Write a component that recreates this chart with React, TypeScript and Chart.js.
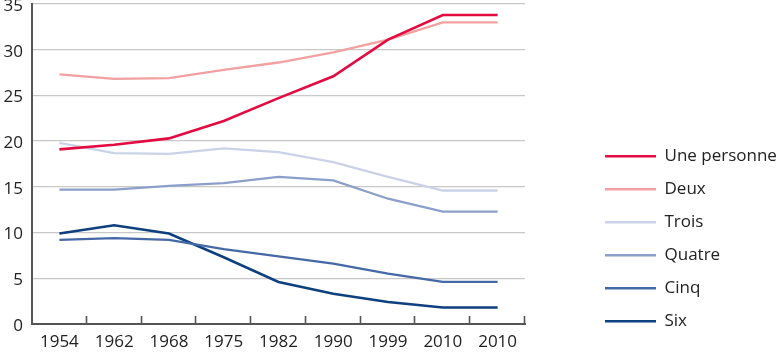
import React, { useEffect, useRef } from "react";
import { Chart, registerables } from "chart.js";

Chart.register(...registerables);

const categories = ["1954", "1962", "1968", "1975", "1982", "1990", "1999", "2010", "2010"];
const seriesNames = ["Une personne", "Deux", "Trois", "Quatre", "Cinq", "Six"];
const unePersonne = [19.1, 19.6, 20.3, 22.2, 24.7, 27.1, 31.1, 33.8, 33.8];
const deux = [27.3, 26.8, 26.9, 27.8, 28.6, 29.7, 31.1, 33.0, 33.0];
const trois = [19.8, 18.7, 18.6, 19.2, 18.8, 17.7, 16.1, 14.6, 14.6];
const quatre = [14.7, 14.7, 15.1, 15.4, 16.1, 15.7, 13.7, 12.3, 12.3];
const cinq = [9.2, 9.4, 9.2, 8.2, 7.4, 6.6, 5.5, 4.6, 4.6];
const six = [9.9, 10.8, 9.9, 7.3, 4.6, 3.3, 2.4, 1.8, 1.8];
const yTicks = [0, 5, 10, 15, 20, 25, 30, 35];

const colors = ["#e30b41", "#f3a0a0", "#c9d2e7", "#8c9fca", "#4569a6", "#0e3f7e"];
const widths = [2.6, 2.3, 2.3, 2.3, 2.3, 2.5];
const FONT = "'Open Sans', sans-serif";

const PLOT_RIGHT = 525;
const LEGEND_LEFT = 589;

const innerTicks = {
  id: "innerTicks",
  afterLayout(chart: any) {
    const lg = chart.legend;
    if (lg) {
      lg.left = LEGEND_LEFT;
      lg.right = chart.width;
      lg.width = chart.width - LEGEND_LEFT;
    }
  },
  afterDraw(chart: any) {
    const xs = chart.scales.x;
    const n = xs.ticks.length;
    const ctx = chart.ctx;
    ctx.save();
    ctx.strokeStyle = "#555";
    ctx.lineWidth = 1.6;
    for (let i = 1; i <= n; i++) {
      const x = Math.round(xs.left + (i * (xs.right - xs.left)) / n) - 0.5;
      ctx.beginPath();
      ctx.moveTo(x, xs.top - 8);
      ctx.lineTo(x, xs.top);
      ctx.stroke();
    }
    ctx.restore();
  },
};

export default function App() {
  const ref = useRef<HTMLCanvasElement | null>(null);
  useEffect(() => {
    if (!ref.current) return;
    const all = [unePersonne, deux, trois, quatre, cinq, six];
    const chart = new Chart(ref.current, {
      type: "line",
      data: {
        labels: categories,
        datasets: all.map((d, i) => ({
          label: seriesNames[i],
          data: d,
          borderColor: colors[i],
          backgroundColor: colors[i],
          borderWidth: widths[i],
          pointRadius: 0,
          tension: 0,
          fill: false,
        })),
      },
      options: {
        animation: false,
        responsive: true,
        maintainAspectRatio: false,
        layout: { padding: { top: 4, left: 0, right: 0, bottom: 0 } },
        plugins: {
          tooltip: { enabled: false },
          legend: {
            position: "right",
            align: "start",
            fullSize: true,
            title: { display: true, text: "", font: { size: 10, lineHeight: 1 }, padding: { top: 117.8, bottom: 0 } },
            labels: {
              boxWidth: 51,
              boxHeight: 2.6,
              padding: 16,
              color: "#222",
              font: { family: FONT, size: 17 },
              generateLabels: (c: any) => {
                const items = (Chart as any).defaults.plugins.legend.labels.generateLabels(c);
                return items.map((it: any) => ({ ...it, lineWidth: 0, strokeStyle: "rgba(0,0,0,0)" }));
              },
            },
          },
        },
        scales: {
          x: {
            type: "category",
            offset: true,
            grid: { display: false, drawTicks: false },
            border: { display: true, color: "#555", width: 2 },
            ticks: { color: "#222", font: { family: FONT, size: 17 }, padding: 8, maxRotation: 0, autoSkip: false },
            afterFit: (s: any) => {
              s.height = 29;
              s.paddingLeft = 0;
              s.paddingRight = 0;
            },
          },
          y: {
            min: 0,
            max: 35,
            afterBuildTicks: (s: any) => {
              s.ticks = yTicks.map((v) => ({ value: v }));
            },
            grid: { color: "#c8c8c8", lineWidth: 1.3, drawTicks: false },
            border: { display: true, color: "#555", width: 2 },
            ticks: { color: "#222", font: { family: FONT, size: 17 }, padding: 9, labelOffset: 2 },
            afterFit: (s: any) => {
              s.width = 32;
              s.paddingTop = 0;
              s.paddingBottom = 0;
            },
          },
          y2: {
            position: "right",
            display: true,
            grid: { display: false, drawTicks: false },
            border: { display: false },
            ticks: { display: false },
            afterFit: (s: any) => {
              const lg = s.chart.legend;
              const lw = lg && lg.width ? lg.width : 130;
              s.width = Math.max(0, s.chart.width - lw - PLOT_RIGHT);
              s.paddingTop = 0;
              s.paddingBottom = 0;
            },
          },
        },
      },
      plugins: [innerTicks],
    });
    return () => chart.destroy();
  }, []);
  return (
    <div style={{ position: "absolute", left: 0, top: 0, width: 780, height: 353 }}>
      <canvas ref={ref} />
    </div>
  );
}
